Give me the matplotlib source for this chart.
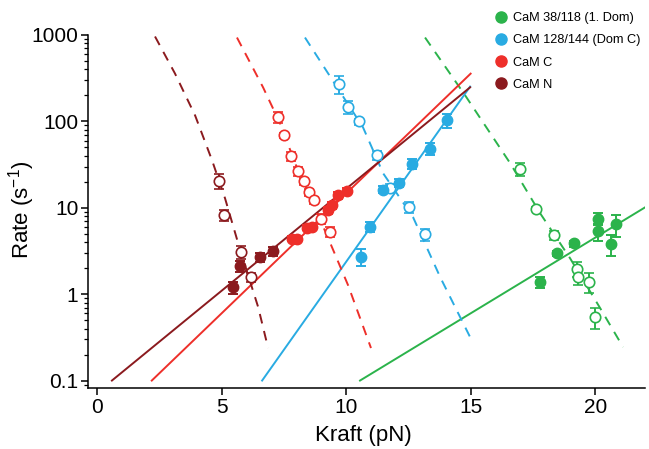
import matplotlib
matplotlib.use("Agg")
import matplotlib.pyplot as plt
from matplotlib.lines import Line2D
from matplotlib.ticker import LogLocator, NullFormatter, FixedLocator, FixedFormatter

plt.rcParams['font.family'] = ['Liberation Sans', 'DejaVu Sans']

GREEN = '#2bb34b'
BLUE = '#29abe2'
RED = '#ee2f2a'
DARKRED = '#8b1a1e'

# ---- CaM N ----
n_fold_f = [5.46, 5.74, 6.55, 7.07]
n_fold_k = [1.2, 2.1, 2.68, 3.14]
n_fold_e = [0.2, 0.3, 0.3, 0.4]
n_unf_f = [4.9, 5.1, 5.77, 6.17]
n_unf_k = [20.3, 8.2, 3.08, 1.58]
n_unf_e = [4.0, 1.2, 0.5, 0.2]
n_fit_fold_f = [0.6, 14.98]
n_fit_fold_k = [0.1, 248]
n_fit_unf_f = [2.33, 3.13, 3.94, 4.62, 5.14, 5.74, 6.47, 6.87]
n_fit_unf_k = [961, 359, 117, 35.4, 12.9, 3.3, 0.71, 0.238]

# ---- CaM C ----
c_fold_f = [7.82, 8.02, 8.42, 8.62, 9.29, 9.43, 9.69, 10.03]
c_fold_k = [4.4, 4.4, 5.9, 6.0, 9.35, 10.7, 14.0, 15.6]
c_fold_e = [0.3, 0.3, 0.4, 0.4, 0.8, 0.9, 1.2, 1.3]
c_unf_f = [7.28, 7.52, 7.78, 8.08, 8.33, 8.51, 8.71, 9.0, 9.36]
c_unf_k = [112, 68.9, 39.7, 26.6, 20.4, 15.2, 12.2, 7.5, 5.25]
c_unf_e = [15, 5, 5, 3, 2, 1.5, 1.2, 1.0, 0.7]
c_fit_fold_f = [2.2, 15.0]
c_fit_fold_k = [0.1, 357]
c_fit_unf_f = [5.62, 6.67, 7.35, 7.99, 8.63, 9.40, 10.08, 11.0]
c_fit_unf_k = [935, 247, 94.8, 31.0, 12.2, 3.69, 1.27, 0.238]

# ---- CaM 128/144 (Dom C) ----
d_fold_f = [10.6, 10.96, 11.5, 12.14, 12.64, 13.35, 14.04]
d_fold_k = [2.7, 6.0, 16.2, 19.4, 32.4, 48.3, 103]
d_fold_e = [0.6, 0.8, 1.5, 2.0, 4.0, 8.0, 20.0]
d_unf_f = [9.73, 10.09, 10.53, 11.23, 11.77, 12.53, 13.17]
d_unf_k = [273, 146, 100, 40.5, 16.9, 10.2, 4.94]
d_unf_e = [65, 25, 8, 5, 2, 1.5, 0.8]
d_fit_fold_f = [6.63, 14.98]
d_fit_fold_k = [0.1, 253]
d_fit_unf_f = [8.35, 9.28, 10.68, 11.49, 12.69, 13.78, 14.98]
d_fit_unf_k = [935, 359, 85.3, 25.0, 7.77, 1.57, 0.318]

# ---- CaM 38/118 (1. Dom) ----
g_fold_f = [17.79, 18.46, 19.13, 20.13, 20.1, 20.84, 20.63]
g_fold_k = [1.39, 3.0, 3.86, 7.5, 5.35, 6.45, 3.78]
g_fold_e = [0.2, 0.2, 0.3, 1.2, 1.2, 1.8, 1.0]
g_unf_f = [16.99, 17.63, 18.35, 19.27, 19.33, 19.77, 20.0]
g_unf_k = [28.4, 9.8, 4.81, 1.98, 1.58, 1.39, 0.547]
g_unf_e = [5.0, 0.5, 0.6, 0.4, 0.3, 0.35, 0.15]
g_fit_fold_f = [10.56, 22.0]
g_fit_fold_k = [0.1, 10.1]
g_fit_unf_f = [13.17, 14.78, 16.59, 17.79, 18.99, 20.2, 21.12]
g_fit_unf_k = [935, 200, 32.7, 8.64, 2.61, 0.689, 0.244]

labels = ['CaM 38/118 (1. Dom)', 'CaM 128/144 (Dom C)', 'CaM C', 'CaM N']

fig = plt.figure(figsize=(6.49, 4.49), dpi=100)
ax = fig.add_axes([88 / 649, 61 / 449, 557 / 649, 353 / 449])

series = [
    (GREEN, g_fold_f, g_fold_k, g_fold_e, g_unf_f, g_unf_k, g_unf_e,
     g_fit_fold_f, g_fit_fold_k, g_fit_unf_f, g_fit_unf_k),
    (BLUE, d_fold_f, d_fold_k, d_fold_e, d_unf_f, d_unf_k, d_unf_e,
     d_fit_fold_f, d_fit_fold_k, d_fit_unf_f, d_fit_unf_k),
    (RED, c_fold_f, c_fold_k, c_fold_e, c_unf_f, c_unf_k, c_unf_e,
     c_fit_fold_f, c_fit_fold_k, c_fit_unf_f, c_fit_unf_k),
    (DARKRED, n_fold_f, n_fold_k, n_fold_e, n_unf_f, n_unf_k, n_unf_e,
     n_fit_fold_f, n_fit_fold_k, n_fit_unf_f, n_fit_unf_k),
]

for (col, ff, fk, fe, uf, uk, ue, lf, lk, df, dk) in series:
    ax.plot(lf, lk, '-', color=col, lw=1.4, zorder=2)
    ax.plot(df, dk, '--', color=col, lw=1.4, dashes=(5, 4), zorder=2)
    ax.errorbar(uf, uk, yerr=ue, fmt='o', ms=7.5, mfc='white', mec=col,
                mew=1.2, ecolor=col, elinewidth=1.4, capsize=3.5,
                capthick=1.4, zorder=3)
    ax.errorbar(ff, fk, yerr=fe, fmt='o', ms=7.5, mfc=col, mec=col,
                ecolor=col, elinewidth=1.4, capsize=3.5, capthick=1.4,
                zorder=4)

ax.set_yscale('log')
ax.set_xlim(-0.36, 22.0)
ax.set_ylim(0.082, 1000)

ax.spines['top'].set_visible(False)
ax.spines['right'].set_visible(False)
ax.spines['left'].set_linewidth(1.1)
ax.spines['bottom'].set_linewidth(1.1)

ax.xaxis.set_major_locator(FixedLocator([0, 5, 10, 15, 20]))
ax.yaxis.set_major_locator(FixedLocator([0.1, 1, 10, 100, 1000]))
ax.yaxis.set_major_formatter(FixedFormatter(['0.1', '1', '10', '100', '1000']))
ax.yaxis.set_minor_locator(LogLocator(base=10, subs=range(2, 10)))
ax.yaxis.set_minor_formatter(NullFormatter())
ax.tick_params(axis='both', which='major', direction='out', length=5,
               width=1.1, labelsize=15, pad=2)
ax.tick_params(axis='y', which='minor', direction='out', length=3, width=0.9)

ax.set_xlabel('Kraft (pN)', fontsize=16)
ax.xaxis.set_label_coords(0.494, -0.105)
ax.set_ylabel('Rate (s$^{\\mathregular{-1}}$)', fontsize=16)
ax.yaxis.set_label_coords(-0.092, 0.504)

handles = [Line2D([], [], ls='none', marker='o', ms=8, mfc=c, mec=c)
           for c in (GREEN, BLUE, RED, DARKRED)]
leg = fig.legend(handles, labels, loc='upper left',
                 bbox_to_anchor=(488 / 649, 1 - 7 / 449), frameon=False,
                 fontsize=9.2, handletextpad=0.35, labelspacing=0.8,
                 borderaxespad=0, handlelength=1.2)

fig.savefig('out.png', dpi=100)
